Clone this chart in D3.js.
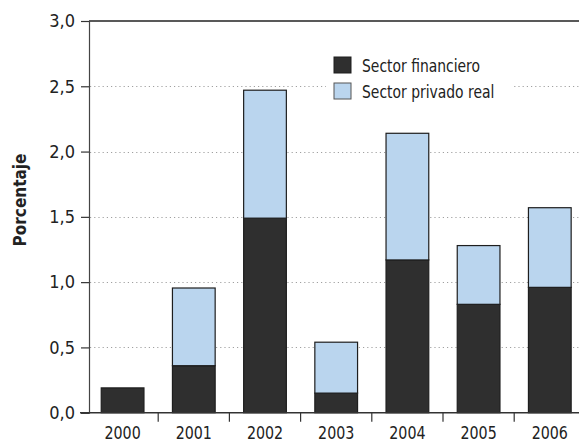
<!DOCTYPE html>
<html>
<head>
<meta charset="utf-8">
<script src="https://cdn.jsdelivr.net/npm/d3@7"></script>
<style>
  html, body { margin: 0; padding: 0; background: #fff; }
  svg { display: block; }
  text { font-family: "Liberation Sans Narrow", "DejaVu Sans Condensed", "Liberation Sans", sans-serif; fill: #222; }
</style>
</head>
<body>
<svg id="chart" width="579" height="442"></svg>
<script>
// Years on the horizontal axis
const years = ["2000", "2001", "2002", "2003", "2004", "2005", "2006"];
// Financial sector share (lower stacked segment)
const sectorFinanciero = [0.19, 0.36, 1.49, 0.15, 1.17, 0.83, 0.96];
// Real private sector share (upper stacked segment)
const sectorPrivadoReal = [0.00, 0.595, 0.98, 0.39, 0.97, 0.45, 0.61];
// Vertical axis ticks
const yTicks = [0, 0.5, 1.0, 1.5, 2.0, 2.5, 3.0];
const seriesNames = ["Sector financiero", "Sector privado real"];
const seriesColors = ["#2f2f2f", "#bad5ee"];

const W = 579, H = 442;
const svg = d3.select("#chart");

const x = d3.scaleBand()
  .domain(years)
  .range([87, 585.4])
  .paddingInner(0.4)
  .paddingOuter(0.2);

const y = d3.scaleLinear().domain([0, 3]).range([412.7, 21]);

const fmt = v => d3.format(".1f")(v).replace(".", ",");

// Dotted gridlines
svg.append("g")
  .selectAll("line")
  .data(yTicks.filter(t => t > 0 && t < 3))
  .join("line")
  .attr("x1", 90).attr("x2", W)
  .attr("y1", d => Math.round(y(d)) + 0.5)
  .attr("y2", d => Math.round(y(d)) + 0.5)
  .attr("stroke", "#a0a0a0")
  .attr("stroke-width", 1)
  .attr("stroke-dasharray", "1.2,3");

// Stacked bars
const rows = years.map((yr, i) => ({ year: yr, f: sectorFinanciero[i], p: sectorPrivadoReal[i] }));
const stack = d3.stack().keys(["f", "p"])(rows);

svg.append("g")
  .selectAll("g")
  .data(stack)
  .join("g")
  .attr("fill", (d, i) => seriesColors[i])
  .selectAll("rect")
  .data(d => d.filter(s => s[1] - s[0] > 0))
  .join("rect")
  .attr("x", d => x(d.data.year))
  .attr("width", x.bandwidth())
  .attr("y", d => y(d[1]))
  .attr("height", d => y(d[0]) - y(d[1]))
  .attr("stroke", "#1e1e1e")
  .attr("stroke-width", 1.2);

// Top frame line at 3,0
svg.append("line")
  .attr("x1", 89).attr("x2", W)
  .attr("y1", y(3)).attr("y2", y(3))
  .attr("stroke", "#222").attr("stroke-width", 1.5);

// Y axis
const yAxis = d3.axisLeft(y)
  .tickValues(yTicks)
  .tickSize(8)
  .tickPadding(6)
  .tickFormat(fmt);

const gy = svg.append("g").attr("transform", "translate(89,0)").call(yAxis);
gy.select(".domain").attr("stroke", "#444").attr("stroke-width", 1.2);
gy.selectAll(".tick line").attr("stroke", "#333").attr("stroke-width", 1.2);
gy.selectAll(".tick text")
  .style("font-family", '"Liberation Sans Narrow", "DejaVu Sans Condensed", sans-serif')
  .style("font-size", "18px")
  .attr("fill", "#222");

// X axis: baseline with ticks between categories
const gx = svg.append("g").attr("transform", `translate(0,${y(0)})`);
gx.append("line")
  .attr("x1", 80).attr("x2", W)
  .attr("y1", 0).attr("y2", 0)
  .attr("stroke", "#333").attr("stroke-width", 1.5);
gx.selectAll("line.sep")
  .data(years.slice(1))
  .join("line")
  .attr("class", "sep")
  .attr("x1", d => x(d) - x.step() * x.paddingInner() / 2)
  .attr("x2", d => x(d) - x.step() * x.paddingInner() / 2)
  .attr("y1", 0).attr("y2", 9)
  .attr("stroke", "#333").attr("stroke-width", 1.2);
gx.selectAll("text")
  .data(years)
  .join("text")
  .attr("transform", d => `translate(${x(d) + x.bandwidth() / 2},26.5) scale(0.88,1)`)
  .attr("text-anchor", "middle")
  .style("font-size", "18px")
  .text(d => d);

// Y axis title
svg.append("text")
  .attr("transform", "translate(26,200) rotate(-90)")
  .attr("text-anchor", "middle")
  .style("font-size", "17px")
  .style("font-weight", "bold")
  .text("Porcentaje");

// Legend
const lg = svg.append("g").attr("transform", "translate(326,52)");
lg.append("rect")
  .attr("x", 0).attr("y", 0)
  .attr("width", 186).attr("height", 54)
  .attr("fill", "#fff");
const items = lg.selectAll("g.item")
  .data(seriesNames)
  .join("g")
  .attr("class", "item")
  .attr("transform", (d, i) => `translate(8,${5 + i * 26})`);
items.append("rect")
  .attr("width", 17).attr("height", 16)
  .attr("fill", (d, i) => seriesColors[i])
  .attr("stroke", (d, i) => i === 0 ? "#1e1e1e" : "#555")
  .attr("stroke-width", 1);
items.append("text")
  .attr("transform", "translate(28,15) scale(0.86,1)")
  .style("font-size", "18px")
  .text(d => d);
</script>
</body>
</html>
